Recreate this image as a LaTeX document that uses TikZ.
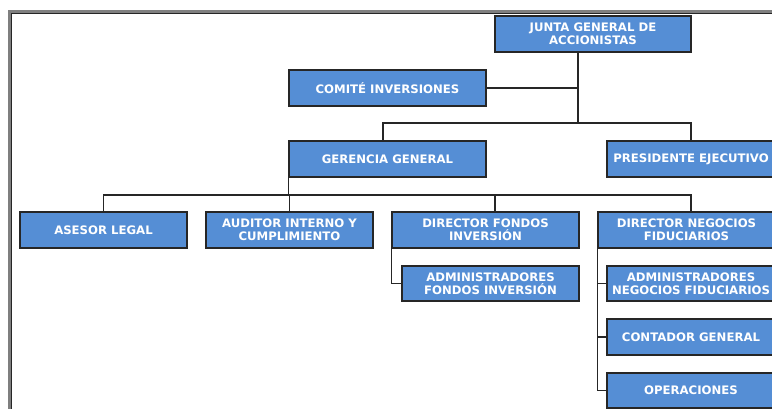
\documentclass[tikz,border=0pt]{standalone}
\usepackage{fontspec}
\setmainfont{DejaVu Sans}
\definecolor{boxblue}{HTML}{558ED5}
\definecolor{framegray}{HTML}{7F7F7F}
\definecolor{linedark}{HTML}{262626}
\begin{document}
\begin{tikzpicture}[x=1pt,y=-1pt,
  orgbox/.style={draw=linedark, line width=1.3pt, fill=boxblue, text=white,
    font=\fontsize{11.7pt}{13pt}\selectfont\bfseries, align=center, inner sep=0pt,
    minimum height=36pt},
  conn/.style={draw=linedark, line width=1.2pt}]
\useasboundingbox (0,0) rectangle (772,409);
\fill[white] (0,0) rectangle (772,409);
% frame
\draw[framegray, line width=3pt] (9.5,420) -- (9.5,11.5) -- (780,11.5);
\draw[linedark, line width=1pt] (11.5,420) -- (11.5,13.5) -- (780,13.5);
% nodes
\node[orgbox, minimum width=196pt] (junta) at (593,34) {JUNTA GENERAL DE\\ACCIONISTAS};
\node[orgbox, minimum width=197pt] (comite) at (387.5,88) {COMITÉ INVERSIONES};
\node[orgbox, minimum width=197pt] (gerencia) at (387.5,159) {GERENCIA GENERAL};
\node[orgbox, minimum width=168pt] (presidente) at (691,159) {PRESIDENTE EJECUTIVO};
\node[orgbox, minimum width=167pt] (asesor) at (103.5,230) {ASESOR LEGAL};
\node[orgbox, minimum width=167pt] (auditor) at (289.5,230) {AUDITOR INTERNO Y\\CUMPLIMIENTO};
\node[orgbox, minimum width=187pt] (dirfondos) at (485.5,230) {DIRECTOR FONDOS\\INVERSIÓN};
\node[orgbox, minimum width=177pt] (dirneg) at (686.5,230) {DIRECTOR NEGOCIOS\\FIDUCIARIOS};
\node[orgbox, minimum width=177pt, minimum height=35pt] (admfondos) at (490.5,283.5) {ADMINISTRADORES\\FONDOS INVERSIÓN};
\node[orgbox, minimum width=168pt, minimum height=35pt] (admneg) at (691,283.5) {ADMINISTRADORES\\NEGOCIOS FIDUCIARIOS};
\node[orgbox, minimum width=168pt] (contador) at (691,337) {CONTADOR GENERAL};
\node[orgbox, minimum width=168pt, minimum height=35pt] (operaciones) at (691,390.5) {OPERACIONES};
% helper coordinates
\coordinate (jtop) at ([xshift=-15pt]junta.south);
\coordinate (top) at (578,123);
\coordinate (bus) at (0,195);
\coordinate (gtop) at ([xshift=-4.5pt]gerencia.north);
\coordinate (df) at ([xshift=9.5pt]dirfondos.north);
\coordinate (dn) at ([xshift=4.5pt]dirneg.north);
% connectors
\draw[conn] (jtop) -- (top);
\draw[conn] (comite.east) -- (comite.east -| top);
\draw[conn] (gtop) |- (top) -| (presidente.north);
\draw[conn] (gerencia.south west) -- (gerencia.south west |- bus);
\draw[conn] (asesor.north) |- (dn |- bus) -- (dn);
\draw[conn] (auditor.north) -- (auditor.north |- bus);
\draw[conn] (df) -- (df |- bus);
\draw[conn] (dirfondos.south west) |- (admfondos.west);
\draw[conn] (dirneg.south west) |- (admneg.west);
\draw[conn] (dirneg.south west) |- (contador.west);
\draw[conn] (dirneg.south west) |- (operaciones.west);
\end{tikzpicture}
\end{document}
